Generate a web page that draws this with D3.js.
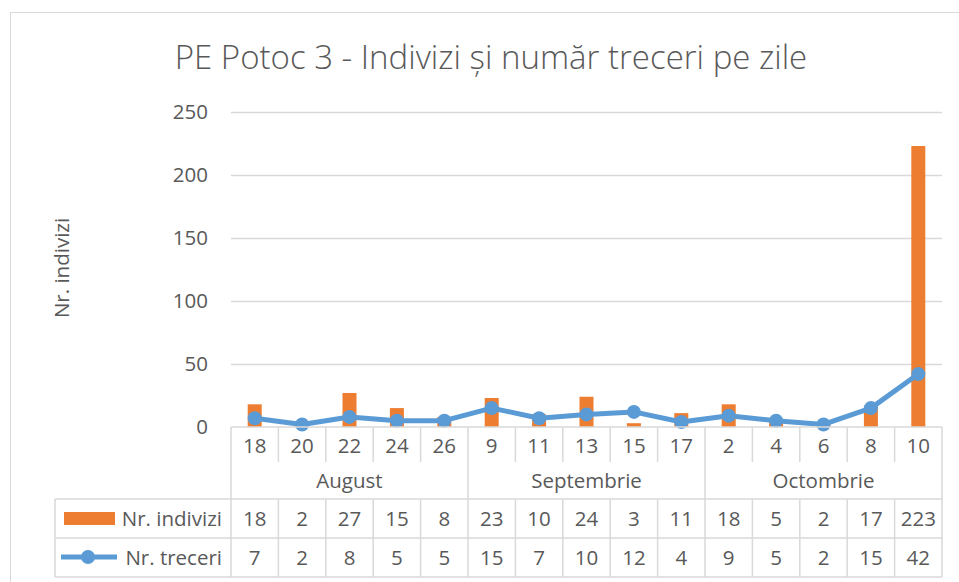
<!DOCTYPE html>
<html>
<head>
<meta charset="utf-8">
<script src="https://cdn.jsdelivr.net/npm/d3@7"></script>
<style>
  body { margin: 0; background: #fff; }
  text { font-family: "Open Sans", Lato, sans-serif; fill: #595959; }
</style>
</head>
<body>
<div id="chart"></div>
<script>
// date
const zile = ['18', '20', '22', '24', '26', '9', '11', '13', '15', '17', '2', '4', '6', '8', '10']
const luni = ['August', 'Septembrie', 'Octombrie']
const zilePeLuna = [5, 5, 5]
const indivizi = [18, 2, 27, 15, 8, 23, 10, 24, 3, 11, 18, 5, 2, 17, 223]
const treceri = [7, 2, 8, 5, 5, 15, 7, 10, 12, 4, 9, 5, 2, 15, 42]
const yTicks = [0, 50, 100, 150, 200, 250]

const W = 959, H = 582
const margin = { top: 112, left: 231, right: 17 }
const y0 = 427
const tableLeft = 55
const rowLines = [499, 538, 577]
const fs = '20.5px'

const svg = d3.select('#chart').append('svg')
  .attr('width', W)
  .attr('height', H)

// cadrul graficului
svg.append('rect')
  .attr('x', 10.5).attr('y', 12.5)
  .attr('width', W + 20).attr('height', H + 20)
  .attr('fill', '#fff')
  .attr('stroke', '#d9d9d9')

svg.append('text')
  .attr('x', 491).attr('y', 69)
  .attr('text-anchor', 'middle')
  .style('font-size', '33px')
  .style('font-weight', 300)
  .text('PE Potoc 3 - Indivizi și număr treceri pe zile')

const x = d3.scaleBand()
  .domain(d3.range(zile.length))
  .range([margin.left, W - margin.right])

const y = d3.scaleLinear()
  .domain([0, 250])
  .range([y0, margin.top])

// grila
const yAxis = svg.append('g')
  .attr('transform', `translate(${margin.left},0)`)
  .call(d3.axisLeft(y).tickValues(yTicks).tickSize(-(W - margin.right - margin.left)).tickPadding(23))
yAxis.select('.domain').remove()
yAxis.selectAll('line').attr('stroke', '#d9d9d9').attr('stroke-width', 1.3)
yAxis.selectAll('text').style('font-size', fs).attr('fill', '#595959')
yAxis.selectAll('.tick').filter(d => d === 0).select('line').remove()

svg.append('text')
  .attr('transform', 'translate(69,268) rotate(-90)')
  .attr('text-anchor', 'middle')
  .style('font-size', fs)
  .text('Nr. indivizi')

// bare
const bw = 14
svg.append('g').selectAll('rect')
  .data(indivizi)
  .join('rect')
  .attr('x', (d, i) => x(i) + x.bandwidth() / 2 - bw / 2)
  .attr('y', d => y(d))
  .attr('width', bw)
  .attr('height', d => y0 - y(d))
  .attr('fill', '#ED7D31')

// linie
const line = d3.line()
  .x((d, i) => x(i) + x.bandwidth() / 2)
  .y(d => y(d))
svg.append('path')
  .datum(treceri)
  .attr('d', line)
  .attr('fill', 'none')
  .attr('stroke', '#5B9BD5')
  .attr('stroke-width', 5)
  .attr('stroke-linejoin', 'round')
svg.append('g').selectAll('circle')
  .data(treceri)
  .join('circle')
  .attr('cx', (d, i) => x(i) + x.bandwidth() / 2)
  .attr('cy', d => y(d))
  .attr('r', 7)
  .attr('fill', '#5B9BD5')

// tabel de date
const grid = svg.append('g').attr('stroke', '#d9d9d9').attr('stroke-width', 1.5)
const xl = margin.left, xr = W - margin.right
grid.append('line').attr('x1', xl).attr('x2', xr).attr('y1', y0).attr('y2', y0)
rowLines.forEach(ry => {
  grid.append('line').attr('x1', tableLeft).attr('x2', xr).attr('y1', ry).attr('y2', ry)
})
grid.append('line').attr('x1', tableLeft).attr('x2', tableLeft).attr('y1', rowLines[0]).attr('y2', rowLines[2])

// separatoare între zile
d3.range(zile.length + 1).forEach(i => {
  const xx = i < zile.length ? x(i) : xr
  let isMonth = false, acc = 0
  zilePeLuna.forEach(n => { if (acc === i) isMonth = true; acc += n })
  if (i === zile.length) isMonth = true
  grid.append('line')
    .attr('x1', xx).attr('x2', xx)
    .attr('y1', y0)
    .attr('y2', isMonth ? rowLines[2] : 462)
  if (!isMonth) {
    grid.append('line').attr('x1', xx).attr('x2', xx).attr('y1', rowLines[0]).attr('y2', rowLines[2])
  }
})

const cx = i => x(i) + x.bandwidth() / 2
const cellText = (vals, yy) => svg.append('g').selectAll('text')
  .data(vals)
  .join('text')
  .attr('x', (d, i) => cx(i))
  .attr('y', yy)
  .attr('text-anchor', 'middle')
  .style('font-size', fs)
  .text(d => d)

cellText(zile, 453)
cellText(indivizi, 526)
cellText(treceri, 565)

let start = 0
luni.forEach((m, k) => {
  const n = zilePeLuna[k]
  const mx = (x(start) + (start + n < zile.length ? x(start + n) : xr)) / 2
  svg.append('text')
    .attr('x', mx).attr('y', 488)
    .attr('text-anchor', 'middle')
    .style('font-size', fs)
    .text(m)
  start += n
})

// legenda în tabel
svg.append('rect')
  .attr('x', 64).attr('y', 512)
  .attr('width', 51).attr('height', 13)
  .attr('fill', '#ED7D31')
svg.append('text')
  .attr('x', 222).attr('y', 526)
  .attr('text-anchor', 'end')
  .style('font-size', fs)
  .text('Nr. indivizi')

svg.append('line')
  .attr('x1', 61).attr('x2', 117)
  .attr('y1', 557).attr('y2', 557)
  .attr('stroke', '#5B9BD5').attr('stroke-width', 5)
svg.append('circle')
  .attr('cx', 88).attr('cy', 557).attr('r', 7)
  .attr('fill', '#5B9BD5')
svg.append('text')
  .attr('x', 222).attr('y', 565)
  .attr('text-anchor', 'end')
  .style('font-size', fs)
  .text('Nr. treceri')
</script>
</body>
</html>
